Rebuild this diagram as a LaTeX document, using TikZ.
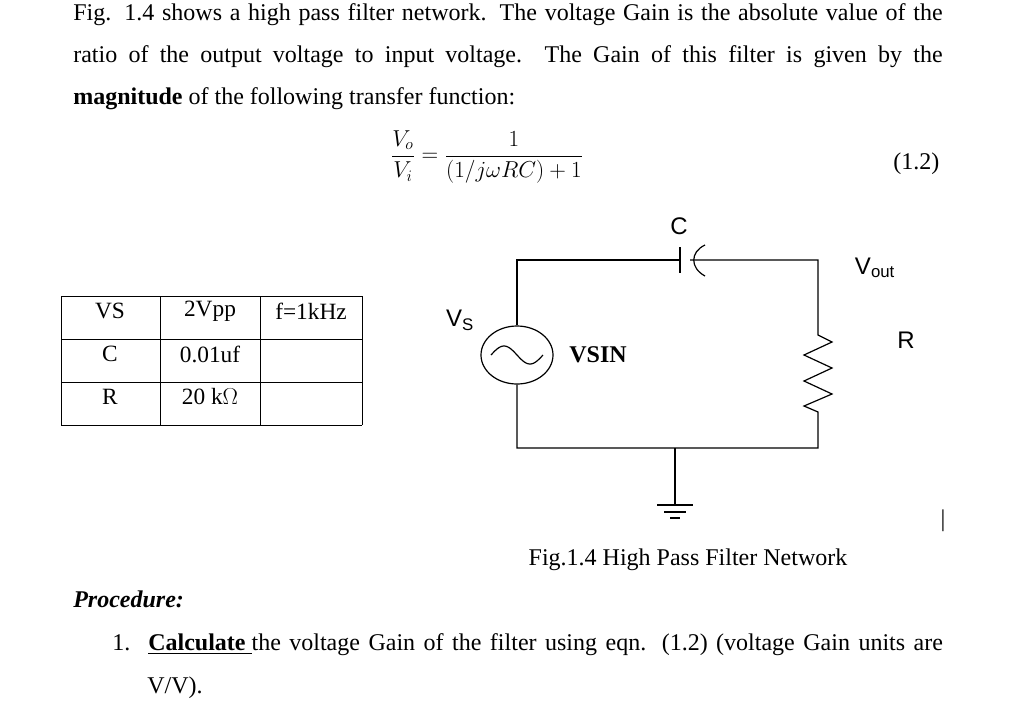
\documentclass[tikz,border=0pt]{standalone}
\usepackage{amsmath}
\usepackage{fontspec}
\setmainfont{Liberation Serif}
\newfontfamily\sansf{Liberation Sans}
\usetikzlibrary{positioning,shapes.geometric}
\begin{document}
\begin{tikzpicture}[x=0.75pt,y=-0.75pt,
  txt/.style={anchor=base west, inner sep=0pt, font=\fontsize{18}{21}\selectfont},
  lbl/.style={inner sep=0pt, font=\sansf\fontsize{18}{21}\selectfont},
  cell/.style={inner sep=0pt, font=\fontsize{17.5}{20}\selectfont},
  wire/.style={line width=0.9pt},
  ]
  \useasboundingbox (0,0) rectangle (1024,708);

  % text above
  \node[txt] (l1) at (73,20) {\makebox[652pt][s]{Fig. 1.4 shows a high pass filter network. The voltage Gain is the absolute value of the}};
  \node[txt] (l2) at (73,62) {\makebox[652pt][s]{ratio of the output voltage to input voltage.\ \ The Gain of this filter is given by the}};
  \node[txt] (l3) at (73,104) {\textbf{magnitude} of the following transfer function:};
  \node[inner sep=0pt, font=\fontsize{17}{20}\selectfont] (eq) at (487,157)
    {$\dfrac{V_o}{V_i}=\dfrac{1}{(1/j\omega RC)+1}$};
  \node[txt] (eqn) at (893,169) {(1.2)};

  % table
  \foreach \x in {61,160,260,362} \draw (\x,296) -- (\x,425);
  \foreach \y in {296,339,382,425} \draw (61,\y) -- (362,\y);
  \node[cell] (vs) at (110,311) {VS};
  \node[cell] (vpp) at (210,311) {2Vpp};
  \node[cell] (f) at (311,311) {f=1kHz};
  \node[cell] (c) at (110,354) {C};
  \node[cell] (cv) at (210,354) {0.01uf};
  \node[cell] (r) at (110,397) {R};
  \node[cell] (rv) at (210,397) {20 k$\Omega$};

  % circuit
  \coordinate (tl) at (517,260);
  \coordinate (tr) at (818,260);
  \coordinate (bl) at (517,448);
  \coordinate (br) at (818,448);
  \coordinate (gnd) at (675,448);
  \coordinate (ca) at (680,260);
  \coordinate (cb) at (690,260);
  \coordinate (ra) at (818,335);
  \coordinate (rb) at (818,412);
  \node[draw, ellipse, minimum width=54pt, minimum height=43.5pt, inner sep=0pt, wire] (src) at (517,355) {};
  \draw[wire] plot[domain=-1:1, samples=40] ({517+26*\x}, {355+9*sin(180*\x)});
  \draw[wire] (src.north) -- (tl) -- (ca);
  \draw[wire] (ca) ++(0,-13) -- ++(0,26);
  \draw[wire] (705,245) .. controls (690,252) and (690,268) .. (705,276);
  \draw[wire] (cb) -- (tr) -- (ra)
    -- (832,342) -- (804,355) -- (832,368) -- (804,381) -- (832,394) -- (804,406) -- (rb)
    -- (br) -- (bl) -- (src.south);
  \draw[wire] (gnd) -- (675,505);
  \draw[wire] (657,505) -- (693,505) (664,512) -- (686,512) (670,518) -- (680,518);

  \node[lbl] (clbl) at (679,226) {C};
  \node[lbl] (vout) at (875,268) {V\textsubscript{out}};
  \node[lbl] (vsl) at (460,320) {V\textsubscript{S}};
  \node[lbl] (rlbl) at (906,340) {R};
  \node[inner sep=0pt, font=\bfseries\fontsize{18}{21}\selectfont] (vsin) at (598,355) {VSIN};
  \node[inner sep=0pt, font=\fontsize{18}{21}\selectfont] (bar) at (943,521) {|};

  % below
  \node[inner sep=0pt, font=\fontsize{18}{21}\selectfont] (cap) at (688,560) {Fig.1.4 High Pass Filter Network};
  \node[txt] (proc) at (73,607) {\textbf{\textit{Procedure:}}};
  \node[txt] (p1) at (112,650) {1.\ \ \ \makebox[596pt][s]{\textbf{\underline{Calculate }}the voltage Gain of the filter using eqn. (1.2) (voltage Gain units are}};
  \node[txt] (p2) at (147,693) {V/V).};
\end{tikzpicture}
\end{document}
